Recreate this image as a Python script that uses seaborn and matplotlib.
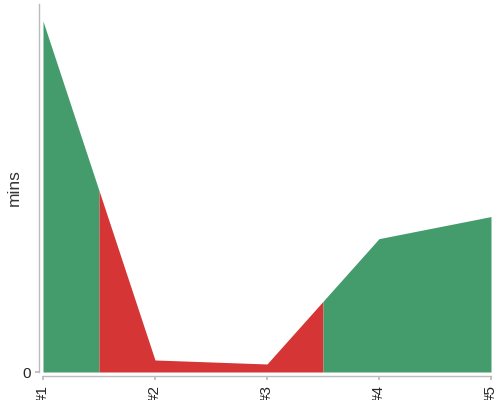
import numpy as np
import matplotlib
matplotlib.use("Agg")
import matplotlib.pyplot as plt
import seaborn as sns

labels = ["#1", "#2", "#3", "#4", "#5"]
mins = [35.0, 1.2, 0.8, 13.3, 15.5]
status = ["ok", "bad", "bad", "ok", "ok"]
colors = {"ok": "#449c6d", "bad": "#d63535"}

sns.set_theme(style="white")
plt.rcParams['font.family'] = ['Liberation Sans', 'DejaVu Sans']

fig = plt.figure(figsize=(5, 4), dpi=100)
ax = fig.add_axes([0.086, 0.07, 0.896, 0.92])

x = np.arange(len(labels))
n = len(labels)

# group neighbouring points with the same status; each point keeps its
# colour half way to its neighbours
runs = []
start = 0
for i in range(1, n + 1):
    if i == n or status[i] != status[start]:
        runs.append((start, i - 1, status[start]))
        start = i

for a, b, s in runs:
    lo = max(a - 0.5, 0)
    hi = min(b + 0.5, n - 1)
    xs = np.unique(np.concatenate([[lo, hi], x[(x > lo) & (x < hi)]]))
    ys = np.interp(xs, x, mins)
    ax.fill_between(xs, 0, ys, color=colors[s], linewidth=0)

ax.set_xlim(0, n - 1)
ax.set_ylim(0, 36.7)
ax.set_xticks(x)
ax.set_xticklabels(labels, fontsize=7.5, color="#111111")
ax.set_yticks([0])
ax.set_yticklabels(["0"], fontsize=10, color="#555555")
ax.set_ylabel("mins", fontsize=12.5, color="#333333")
ax.yaxis.set_label_coords(-0.048, 0.5)

sns.despine(ax=ax)
for side in ["left", "bottom"]:
    ax.spines[side].set_position(("outward", 3))
    ax.spines[side].set_color("#bbbbbb")
    ax.spines[side].set_linewidth(1)
ax.tick_params(axis="x", length=3, color="#bbbbbb", pad=3, bottom=True,
               labelrotation=90)
ax.tick_params(axis="y", length=3, color="#bbbbbb", pad=3, left=True)

fig.savefig("out.png", dpi=100)
